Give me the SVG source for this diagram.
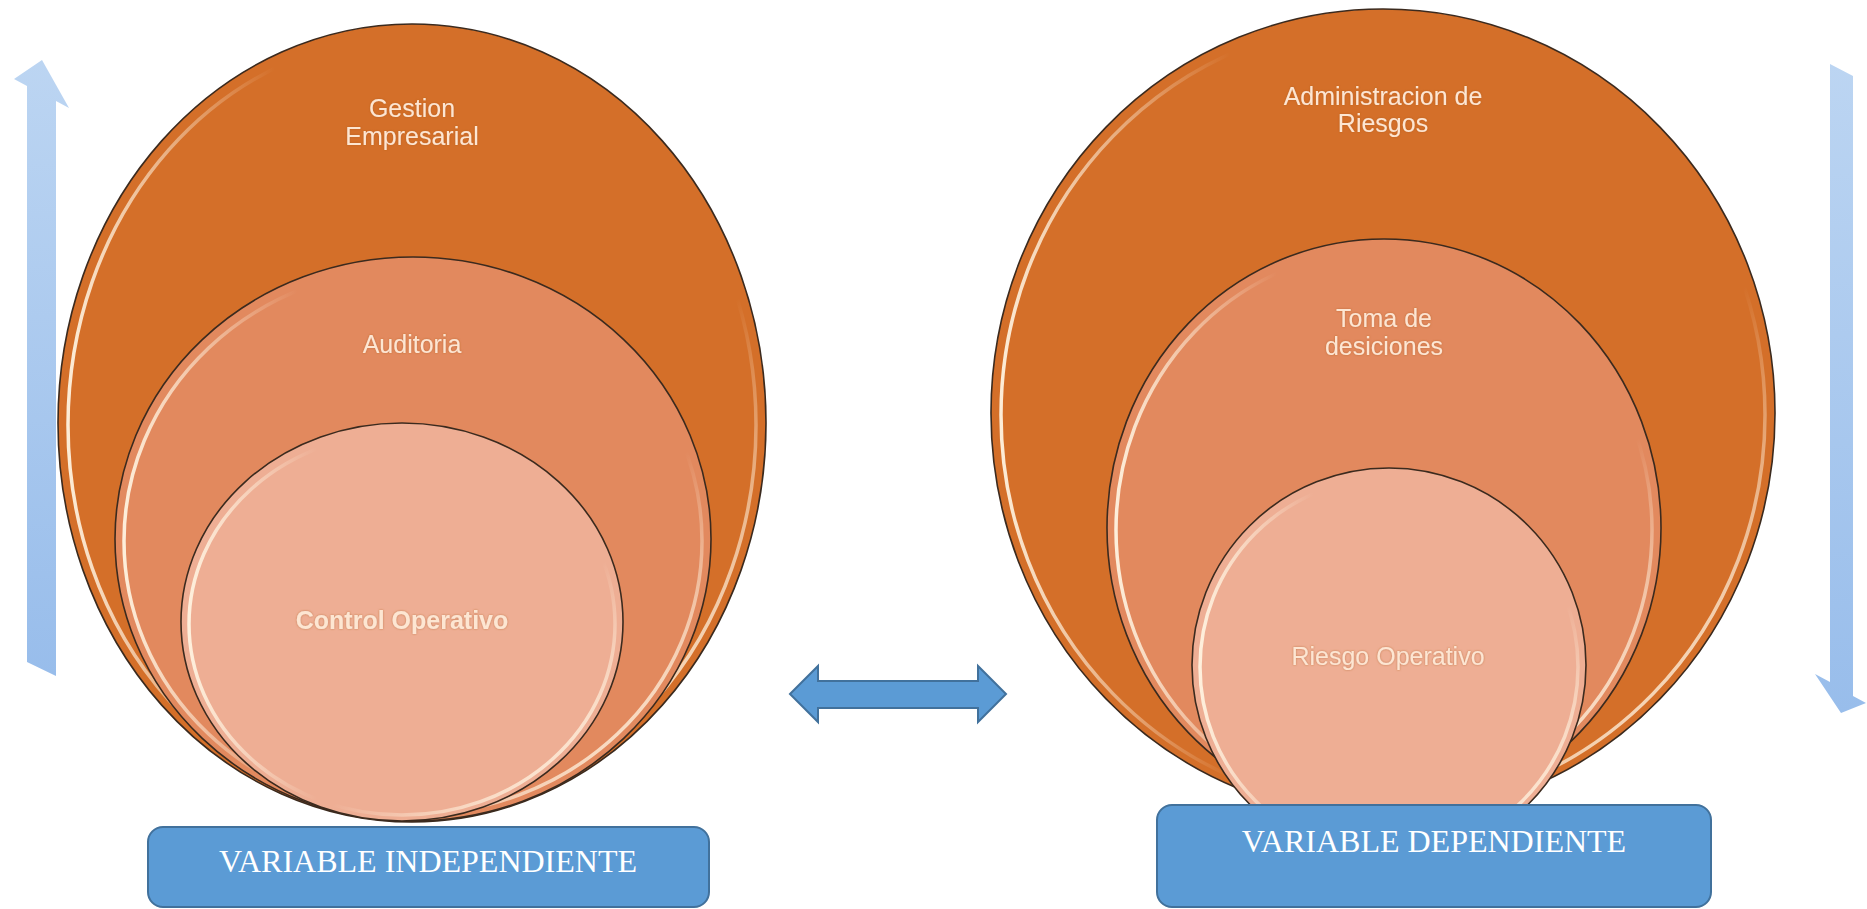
<svg xmlns="http://www.w3.org/2000/svg" width="1867" height="909" viewBox="0 0 1867 909">
  <defs>
    <!-- bevel glint along the left edge -->
    <linearGradient id="rimL" x1="0" y1="0" x2="1" y2="0">
      <stop offset="0" stop-color="#fff3e0" stop-opacity="0.95"/>
      <stop offset="0.3" stop-color="#fff3e0" stop-opacity="0"/>
      <stop offset="1" stop-color="#fff3e0" stop-opacity="0"/>
    </linearGradient>
    <!-- bevel glint along the lower right edge -->
    <linearGradient id="rimR" x1="0.45" y1="0.2" x2="1" y2="0.75">
      <stop offset="0" stop-color="#fff3e0" stop-opacity="0"/>
      <stop offset="0.6" stop-color="#fff3e0" stop-opacity="0"/>
      <stop offset="1" stop-color="#fff3e0" stop-opacity="0.85"/>
    </linearGradient>
    <linearGradient id="sideArrow" x1="0" y1="0" x2="0" y2="1">
      <stop offset="0" stop-color="#bcd5f2"/>
      <stop offset="1" stop-color="#98bdeb"/>
    </linearGradient>
    <filter id="glow" x="-10%" y="-30%" width="120%" height="160%">
      <feGaussianBlur in="SourceAlpha" stdDeviation="1.2" result="b"/>
      <feFlood flood-color="#a85a20" flood-opacity="0.6"/>
      <feComposite in2="b" operator="in" result="s"/>
      <feMerge><feMergeNode in="s"/><feMergeNode in="SourceGraphic"/></feMerge>
    </filter>
  </defs>
  <style>
    .outer { fill: #d46f29; stroke: #3b2a1e; stroke-width: 1.6; }
    .middle { fill: #e2895e; stroke: #3b2a1e; stroke-width: 1.6; }
    .inner { fill: #eeae94; stroke: #3b2a1e; stroke-width: 1.6; }
    .rimL { fill: none; stroke: url(#rimL); stroke-width: 3.5; }
    .rimR { fill: none; stroke: url(#rimR); stroke-width: 3.5; }
    .lbl { font-family: "Liberation Sans", Arial, sans-serif; font-size: 25px; fill: #fde6d2; text-anchor: middle; }
    .bold { font-weight: bold; }
    .box { fill: #5b9bd5; stroke: #41719c; stroke-width: 2; }
    .boxtxt { font-family: "Liberation Serif", "Times New Roman", serif; font-size: 32px; fill: #ffffff; text-anchor: middle; }
    .side { fill: url(#sideArrow); }
    .link { fill: #5b9bd5; stroke: #41719c; stroke-width: 2; stroke-linejoin: miter; }
  </style>

  <!-- independent variable stack -->
  <g id="gestion-empresarial">
    <ellipse class="outer" cx="412" cy="423" rx="354" ry="399"/>
    <ellipse class="rimL" cx="412" cy="425" rx="344" ry="389"/>
    <ellipse class="rimR" cx="412" cy="425" rx="344" ry="389"/>
    <text class="lbl" x="412" y="117" filter="url(#glow)">Gestion</text>
    <text class="lbl" x="412" y="145" filter="url(#glow)">Empresarial</text>
  </g>
  <g id="auditoria">
    <ellipse class="middle" cx="413" cy="539" rx="298" ry="282"/>
    <ellipse class="rimL" cx="413" cy="541" rx="289" ry="273"/>
    <ellipse class="rimR" cx="413" cy="541" rx="289" ry="273"/>
    <text class="lbl" x="412" y="353" filter="url(#glow)">Auditoria</text>
  </g>
  <g id="control-operativo">
    <ellipse class="inner" cx="402" cy="622" rx="221" ry="199"/>
    <ellipse class="rimL" cx="402" cy="624" rx="213" ry="191"/>
    <ellipse class="rimR" cx="402" cy="624" rx="213" ry="191"/>
    <text class="lbl bold" x="402" y="629" filter="url(#glow)">Control Operativo</text>
  </g>

  <!-- dependent variable stack -->
  <g id="administracion-riesgos">
    <ellipse class="outer" cx="1383" cy="413" rx="392" ry="404"/>
    <ellipse class="rimL" cx="1383" cy="415" rx="382" ry="394"/>
    <ellipse class="rimR" cx="1383" cy="415" rx="382" ry="394"/>
    <text class="lbl" x="1383" y="105" filter="url(#glow)">Administracion de</text>
    <text class="lbl" x="1383" y="132" filter="url(#glow)">Riesgos</text>
  </g>
  <g id="toma-desiciones">
    <ellipse class="middle" cx="1384" cy="528" rx="277" ry="289"/>
    <ellipse class="rimL" cx="1384" cy="530" rx="268" ry="280"/>
    <ellipse class="rimR" cx="1384" cy="530" rx="268" ry="280"/>
    <text class="lbl" x="1384" y="327" filter="url(#glow)">Toma de</text>
    <text class="lbl" x="1384" y="355" filter="url(#glow)">desiciones</text>
  </g>
  <g id="riesgo-operativo">
    <ellipse class="inner" cx="1389" cy="665" rx="197" ry="197"/>
    <ellipse class="rimL" cx="1389" cy="667" rx="189" ry="189"/>
    <ellipse class="rimR" cx="1389" cy="667" rx="189" ry="189"/>
    <text class="lbl" x="1388" y="665" filter="url(#glow)">Riesgo Operativo</text>
  </g>

  <!-- captions -->
  <g id="variable-independiente">
    <rect class="box" x="148" y="827" width="561" height="80" rx="15"/>
    <text class="boxtxt" x="428" y="872">VARIABLE INDEPENDIENTE</text>
  </g>
  <g id="variable-dependiente">
    <rect class="box" x="1157" y="805" width="554" height="102" rx="15"/>
    <text class="boxtxt" x="1434" y="852">VARIABLE DEPENDIENTE</text>
  </g>

  <!-- connectors -->
  <g id="connectors">
    <polygon class="side" points="42,60 69,108 56,101 56,676 27,662 27,86 14,79"/>
    <polygon class="side" points="1830,64 1853,76 1853,696 1866,703 1841,713 1815,674 1830,682"/>
    <polygon class="link" points="790,694 818,666 818,681 978,681 978,666 1006,694 978,722 978,708 818,708 818,722"/>
  </g>
</svg>
